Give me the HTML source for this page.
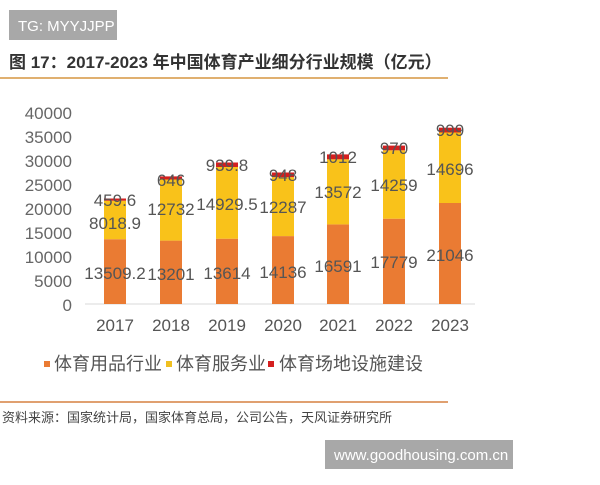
<!DOCTYPE html>
<html><head><meta charset="utf-8"><style>
body{margin:0;background:#fff;width:600px;height:480px;overflow:hidden;font-family:"Liberation Sans","Noto Sans CJK SC",sans-serif}
</style></head><body>
<svg width="600" height="480" xmlns="http://www.w3.org/2000/svg" font-family="Liberation Sans, Noto Sans CJK SC, sans-serif">
<rect x="9" y="10" width="108" height="30" fill="#a8a8a8"/>
<text x="18" y="31" font-size="15" fill="#fff">TG: MYYJJPP</text>
<text x="9" y="68" font-size="17" font-weight="bold" fill="#333">图 17：2017-2023 年中国体育产业细分行业规模（亿元）</text>
<rect x="0" y="77" width="448" height="2" fill="#e0b070"/>
<g font-size="17" fill="#666" text-anchor="end">
<text x="72" y="119">40000</text><text x="72" y="143">35000</text><text x="72" y="167">30000</text><text x="72" y="191">25000</text><text x="72" y="215">20000</text><text x="72" y="239">15000</text><text x="72" y="263">10000</text><text x="72" y="287">5000</text><text x="72" y="311">0</text>
</g>
<line x1="85" y1="304" x2="475" y2="304" stroke="#d8d8d8"/>
<g id="bars">
<rect x="104" y="239.2" width="22" height="64.8" fill="#ea7b33"/><rect x="104" y="200.7" width="22" height="38.5" fill="#f9c21a"/><rect x="104" y="198.5" width="22" height="2.2" fill="#d41f1f"/>
<rect x="160" y="240.6" width="22" height="63.4" fill="#ea7b33"/><rect x="160" y="179.5" width="22" height="61.1" fill="#f9c21a"/><rect x="160" y="176.4" width="22" height="3.1" fill="#d41f1f"/>
<rect x="216" y="238.7" width="22" height="65.3" fill="#ea7b33"/><rect x="216" y="167" width="22" height="71.7" fill="#f9c21a"/><rect x="216" y="162.5" width="22" height="4.5" fill="#d41f1f"/>
<rect x="272" y="236.1" width="22" height="67.9" fill="#ea7b33"/><rect x="272" y="177.1" width="22" height="59" fill="#f9c21a"/><rect x="272" y="172.5" width="22" height="4.6" fill="#d41f1f"/>
<rect x="327" y="224.4" width="22" height="79.6" fill="#ea7b33"/><rect x="327" y="159.3" width="22" height="65.1" fill="#f9c21a"/><rect x="327" y="154.4" width="22" height="4.9" fill="#d41f1f"/>
<rect x="383" y="218.7" width="22" height="85.3" fill="#ea7b33"/><rect x="383" y="150.3" width="22" height="68.4" fill="#f9c21a"/><rect x="383" y="145.6" width="22" height="4.7" fill="#d41f1f"/>
<rect x="439" y="203" width="22" height="101" fill="#ea7b33"/><rect x="439" y="132.5" width="22" height="70.5" fill="#f9c21a"/><rect x="439" y="127.7" width="22" height="4.8" fill="#d41f1f"/>
</g>
<g font-size="17" fill="#555" text-anchor="middle">
<text x="115" y="279">13509.2</text><text x="115" y="229">8018.9</text><text x="115" y="206">459.6</text>
<text x="171" y="280">13201</text><text x="171" y="215">12732</text><text x="171" y="186">646</text>
<text x="227" y="279">13614</text><text x="227" y="210">14929.5</text><text x="227" y="171">939.8</text>
<text x="283" y="278">14136</text><text x="283" y="213">12287</text><text x="283" y="181">948</text>
<text x="338" y="272">16591</text><text x="338" y="198">13572</text><text x="338" y="163">1012</text>
<text x="394" y="268">17779</text><text x="394" y="191">14259</text><text x="394" y="154">970</text>
<text x="450" y="261">21046</text><text x="450" y="175">14696</text><text x="450" y="136">999</text>
</g>
<g font-size="17" fill="#555" text-anchor="middle">
<text x="115" y="331">2017</text><text x="171" y="331">2018</text><text x="227" y="331">2019</text><text x="283" y="331">2020</text><text x="338" y="331">2021</text><text x="394" y="331">2022</text><text x="450" y="331">2023</text>
</g>
<g font-size="18" fill="#555">
<rect x="44" y="361" width="6" height="6" fill="#ea7b33"/><text x="54" y="370">体育用品行业</text>
<rect x="166" y="361" width="6" height="6" fill="#f0c020"/><text x="176" y="370">体育服务业</text>
<rect x="268" y="361" width="6" height="6" fill="#d41f1f"/><text x="279" y="370">体育场地设施建设</text>
</g>
<rect x="0" y="401" width="448" height="2" fill="#e0a070"/>
<text x="2" y="422" font-size="13" fill="#444">资料来源：国家统计局，国家体育总局，公司公告，天风证券研究所</text>
<rect x="325" y="440" width="188" height="29" fill="#a8a8a8"/>
<text x="334" y="460" font-size="15" fill="#fff">www.goodhousing.com.cn</text>
</svg>
</body></html>
